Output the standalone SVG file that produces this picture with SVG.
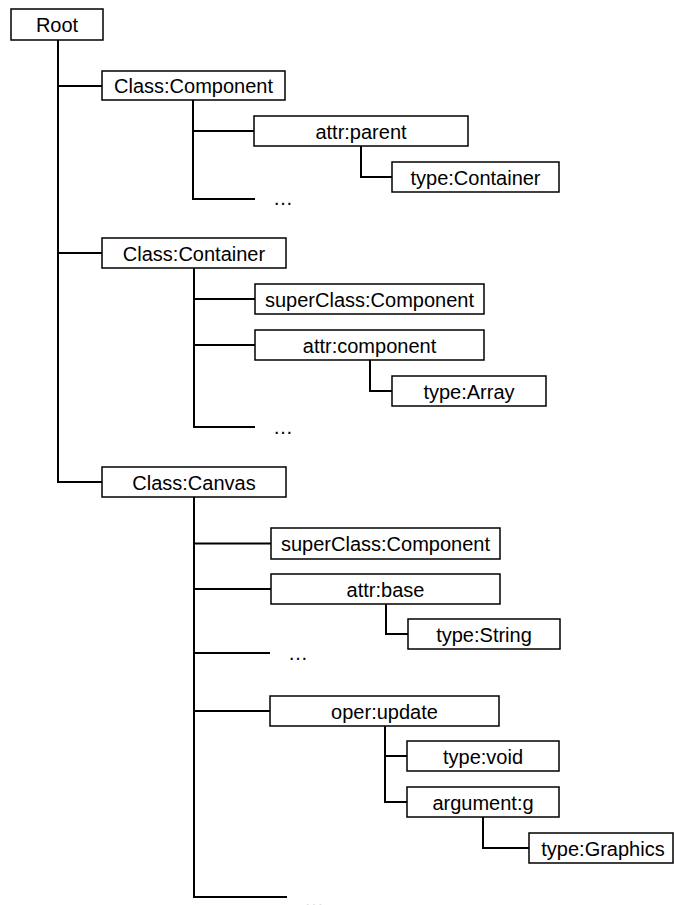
<svg xmlns="http://www.w3.org/2000/svg" width="674" height="905" viewBox="0 0 674 905">
  <style>
    .box { fill: #ffffff; stroke: #000000; stroke-width: 1.5; }
    .lbl { font-family: "Liberation Sans", Arial, sans-serif; font-size: 20px; fill: #000000; text-anchor: middle; }
    .dots { font-family: "Liberation Sans", Arial, sans-serif; font-size: 20px; fill: #000000; }
    .wire { fill: none; stroke: #000000; stroke-width: 2; }
  </style>
  <rect width="674" height="905" fill="#ffffff"/>

  <!-- tree connectors -->
  <g id="connectors">
    <!-- root trunk -->
    <path class="wire" d="M58 40 V482 H102"/>
    <path class="wire" d="M58 86 H102"/>
    <path class="wire" d="M58 253 H102"/>
    <!-- Class:Component subtree -->
    <path class="wire" d="M193 100 V199 H255"/>
    <path class="wire" d="M193 131 H254"/>
    <path class="wire" d="M361 146 V177 H392"/>
    <!-- Class:Container subtree -->
    <path class="wire" d="M194 268 V427 H255"/>
    <path class="wire" d="M194 299 H255"/>
    <path class="wire" d="M194 345 H255"/>
    <path class="wire" d="M370 360 V391 H392"/>
    <!-- Class:Canvas subtree -->
    <path class="wire" d="M194 497 V897 H287"/>
    <path class="wire" d="M194 543.5 H271"/>
    <path class="wire" d="M194 589 H271"/>
    <path class="wire" d="M194 653 H270"/>
    <path class="wire" d="M194 711 H270"/>
    <path class="wire" d="M386 604 V634 H408"/>
    <path class="wire" d="M385 726 V802 H407"/>
    <path class="wire" d="M385 756 H407"/>
    <path class="wire" d="M483 817 V848 H529"/>
  </g>

  <g id="root">
    <rect class="box" x="11" y="9" width="92" height="31"/>
    <text class="lbl" x="57" y="32">Root</text>
  </g>

  <g id="class-component">
    <rect class="box" x="102" y="71" width="183" height="29"/>
    <text class="lbl" x="193.5" y="93">Class:Component</text>
  </g>
  <g id="component-attr-parent">
    <rect class="box" x="254" y="116" width="214" height="30"/>
    <text class="lbl" x="361" y="138.5">attr:parent</text>
  </g>
  <g id="component-parent-type">
    <rect class="box" x="392" y="162" width="167" height="30"/>
    <text class="lbl" x="475.5" y="184.5">type:Container</text>
  </g>
  <text class="dots" x="273" y="205">…</text>

  <g id="class-container">
    <rect class="box" x="102" y="238" width="184" height="30"/>
    <text class="lbl" x="194" y="260.5">Class:Container</text>
  </g>
  <g id="container-superclass">
    <rect class="box" x="255" y="284" width="229" height="30"/>
    <text class="lbl" x="369.5" y="306.5">superClass:Component</text>
  </g>
  <g id="container-attr-component">
    <rect class="box" x="255" y="330" width="229" height="30"/>
    <text class="lbl" x="369.5" y="352.5">attr:component</text>
  </g>
  <g id="container-component-type">
    <rect class="box" x="392" y="376" width="154" height="30"/>
    <text class="lbl" x="469" y="398.5">type:Array</text>
  </g>
  <text class="dots" x="273" y="434">…</text>

  <g id="class-canvas">
    <rect class="box" x="102" y="467" width="184" height="30"/>
    <text class="lbl" x="194" y="489.5">Class:Canvas</text>
  </g>
  <g id="canvas-superclass">
    <rect class="box" x="271" y="528" width="229" height="31"/>
    <text class="lbl" x="385.5" y="551">superClass:Component</text>
  </g>
  <g id="canvas-attr-base">
    <rect class="box" x="271" y="574" width="229" height="30"/>
    <text class="lbl" x="385.5" y="596.5">attr:base</text>
  </g>
  <g id="canvas-base-type">
    <rect class="box" x="408" y="619" width="152" height="30"/>
    <text class="lbl" x="484" y="641.5">type:String</text>
  </g>
  <text class="dots" x="288" y="660">…</text>
  <g id="canvas-oper-update">
    <rect class="box" x="270" y="696" width="229" height="30"/>
    <text class="lbl" x="384.5" y="718.5">oper:update</text>
  </g>
  <g id="update-return-type">
    <rect class="box" x="407" y="741" width="152" height="30"/>
    <text class="lbl" x="483" y="763.5">type:void</text>
  </g>
  <g id="update-argument-g">
    <rect class="box" x="407" y="787" width="152" height="30"/>
    <text class="lbl" x="483" y="809.5">argument:g</text>
  </g>
  <g id="argument-g-type">
    <rect class="box" x="529" y="833" width="144" height="30"/>
    <text class="lbl" x="603" y="855.5">type:Graphics</text>
  </g>
  <!-- trailing ellipsis runs off the bottom edge -->
  <text class="dots" x="304" y="906.5" style="fill:#888888">…</text>
</svg>
